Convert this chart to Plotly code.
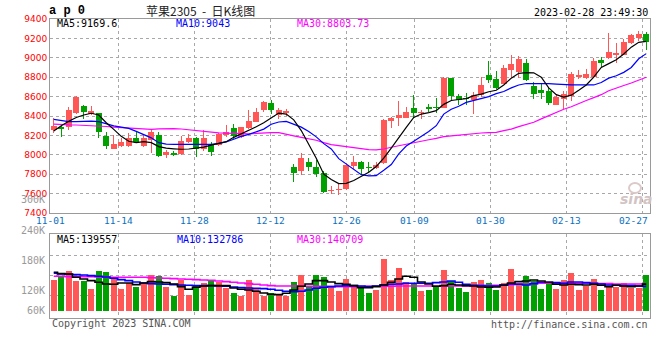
import plotly.graph_objects as go

# ---------------- data ----------------
dates = ["11-01","11-02","11-03","11-04","11-07","11-08","11-09","11-10","11-11",
         "11-14","11-15","11-16","11-17","11-18","11-21","11-22","11-23","11-24","11-25",
         "11-28","11-29","11-30","12-01","12-02","12-05","12-06","12-07","12-08","12-09",
         "12-12","12-13","12-14","12-15","12-16","12-19","12-20","12-21","12-22","12-23",
         "12-26","12-27","12-28","12-29","12-30","01-03","01-04","01-05","01-06",
         "01-09","01-10","01-11","01-12","01-13","01-16","01-17","01-18","01-19","01-20",
         "01-30","01-31","02-01","02-02","02-03","02-06","02-07","02-08","02-09","02-10",
         "02-13","02-14","02-15","02-16","02-17","02-20","02-21","02-22","02-23","02-24",
         "02-27","02-28"]
label_dates = ["11-01","11-14","11-28","12-12","12-26","01-09","01-30","02-13","02-27"]

open_ = [8260,8290,8285,8428,8500,8420,8428,8195,8065,8088,8092,8175,8090,8155,8205,8000,8015,8010,8130,8175,
         8056,8107,8103,8205,8275,8181,8272,8339,8457,8535,8410,8427,7871,7834,7921,7870,7815,7632,7635,7650,
         7888,7921,7875,7861,7915,8349,8376,8383,8478,8427,8494,8490,8484,8788,8602,8582,8568,8619,8825,8780,
         8730,8879,8855,8946,8710,8670,8653,8518,8579,8602,8805,8788,8805,8980,8997,9024,9030,9152,9209,9243]
close = [8300,8265,8460,8598,8445,8450,8240,8090,8108,8135,8172,8135,8175,8240,7990,8025,8000,8145,8172,8060,
         8174,8026,8215,8232,8198,8282,8349,8444,8545,8457,8467,8451,7810,7972,7874,7800,7615,7642,7649,7890,
         7928,7854,7868,7895,8360,8376,8410,8444,8434,8444,8474,8486,8788,8606,8562,8576,8619,8724,8774,8690,
         8896,8933,8990,8771,8629,8639,8538,8592,8626,8831,8821,8831,8963,8950,9057,9047,9168,9236,9249,9168]
high = [8380,8320,8495,8605,8515,8505,8432,8240,8200,8175,8222,8250,8215,8265,8230,8045,8040,8190,8215,8185,
        8258,8130,8225,8306,8322,8290,8467,8484,8555,8568,8480,8477,7901,8023,7962,7950,7830,7675,7699,7895,
        7989,7938,7921,7921,8365,8393,8552,8494,8619,8461,8521,8589,8804,8795,8629,8636,8646,8798,8966,8860,
        8929,9030,9017,8990,8754,8727,8703,8619,8660,8855,8879,8889,9000,9007,9259,9148,9192,9249,9276,9266]
low = [8220,8180,8260,8420,8370,8410,8178,8055,8060,8080,8078,8125,8085,8015,7980,7965,7985,8000,8125,7975,
       8036,7985,8095,8181,8164,8170,8265,8335,8440,8424,8373,8400,7716,7793,7834,7775,7605,7601,7581,7640,
       7854,7787,7820,7855,7910,8275,8292,8375,8376,8366,8444,8434,8480,8568,8511,8511,8417,8595,8737,8680,
       8725,8794,8794,8760,8579,8579,8518,8510,8468,8552,8778,8780,8800,8906,8990,8946,9025,9140,9175,9084]

volume = [152100,162000,179100,149100,149100,125100,179100,175200,157200,125100,144000,131100,144000,167100,164100,
          131100,104100,152100,107100,137100,144000,149100,146100,129000,113100,105000,152100,125100,105000,113100,
          107100,105000,146100,167100,131100,167100,161100,132000,119100,155100,132000,129000,113100,122100,215100,
          152100,188100,146100,140100,119100,122100,134100,182100,149100,128100,116100,146100,152100,143100,122100,
          143100,185100,143100,164100,149100,125100,143100,125100,152100,173100,122100,134100,155100,122100,134100,
          131100,143100,128100,128100,167100]

ma5 = [8245,8300,8345,8385,8410,8428,8410,8330,8262,8190,8140,8125,8135,8125,8085,8068,8062,8057,8060,8067,
       8080,8100,8120,8135,8180,8215,8250,8290,8330,8380,8430,8420,8360,8250,8115,7965,7800,7745,7703,7705,
       7735,7780,7820,7880,7965,8069,8170,8282,8385,8420,8435,8455,8520,8560,8570,8580,8610,8625,8650,8665,
       8720,8790,8840,8848,8845,8800,8690,8620,8595,8615,8665,8720,8800,8900,8940,8980,9040,9110,9160,9170]
ma10 = [8365,8355,8343,8341,8344,8348,8342,8318,8298,8285,8272,8242,8205,8175,8125,8110,8108,8108,8105,8102,
        8104,8107,8118,8134,8160,8190,8210,8240,8265,8315,8338,8345,8315,8285,8240,8185,8115,8060,7960,7905,
        7845,7795,7783,7785,7840,7900,8010,8090,8140,8190,8240,8300,8420,8470,8500,8540,8560,8580,8600,8630,
        8653,8690,8720,8735,8737,8737,8734,8729,8722,8720,8720,8720,8720,8745,8790,8815,8850,8900,8990,9043]
ma30 = [8316,8310,8308,8307,8305,8300,8297,8292,8285,8280,8275,8270,8265,8263,8268,8272,8270,8266,8258,8250,
        8240,8230,8226,8223,8220,8217,8215,8220,8227,8228,8228,8215,8195,8180,8165,8150,8125,8105,8095,8083,
        8070,8058,8053,8050,8060,8078,8095,8112,8125,8140,8155,8170,8187,8195,8203,8210,8220,8225,8228,8232,
        8250,8265,8290,8315,8335,8370,8405,8440,8470,8495,8530,8560,8590,8620,8660,8690,8715,8740,8770,8800]

vma5 = [175,171,170,160,155,150,145,140,139,143,143,138,143,147,146,144,140,132,124,130,
        134,135,135,135,128,124,122,118,113,109,108,112,122,133,140,150,150,146,141,139,
        135,129,129,132,137,145,155,163,160,146,140,133,135,139,137,135,134,131,130,131,
        137,143,147,149,152,149,145,139,137,139,138,137,139,136,132,136,134,132,134,139.6]
vma10 = [172,170,169,168,167,165,163,161,157,153,150,146,143,141,140,139,138,137,136,135,
         135,135,134,133,131,129,128,127,126,124,121,118,117,118,122,127,130,132,134,135,
         135,134,132,134,137,139,140,142,142,142,142,144,146,149,145,139,136,135,134,134,
         136,140,139,137,141,145,145,144,142,146,146,144,142,140,137,136,135,135,134,132.8]
vma30 = [163,163,162,162,162,162,161,161,160,160,160,160,160,159,158,157,156,155,154,153,
         152,151,149,147,145,143,141,139,137,135,134,134,134,134,133,133,132,132,132,132,
         132,132,133,133,133,133,134,134,134,134,134,134,134,134,134,134,135,135,135,136,
         137,138,139,140,141,142,142,142,142,142,142,142,142,141,141,140,140,140,140,140.7]

price_ticks = [7400, 7600, 7800, 8000, 8200, 8400, 8600, 8800, 9000, 9200, 9400]
vol_tick_labels = ["300K", "240K", "180K", "120K", "60K"]
ma_texts = ["MA5:9169.6", "MA10:9043", "MA30:8803.73"]
vol_ma_texts = ["MA5:139557", "MA10:132786", "MA30:140709"]
title_code = "a p 0"
title_text = "苹果2305\u00a0\u00a0-\u00a0\u00a0日K线图"
timestamp = "2023-02-28 23:49:30"
copyright_text = "Copyright 2023 SINA.COM"
url_text = "http://finance.sina.com.cn"

# ---------------- styling / layout ----------------
RED = "#ff5656"
GREEN = "#00a000"
GRID = "#a8a8a8"
BORDER = "#9a9a9a"
MONO = "DejaVu Sans Mono"
VOL_BASE = 60000

# page body margin is reset to 0 (see post_script), figure fills the window
W, H = 660, 360
PLOT_L, PLOT_R, PLOT_T, PLOT_B = 50, 650, 19, 318   # window pixels
L, R = PLOT_L, W - PLOT_R
T, B = PLOT_T, H - PLOT_B


def px_x(x):
    return (x - PLOT_L) / (PLOT_R - PLOT_L)


def px_y(y):
    return (PLOT_B - y) / (PLOT_B - PLOT_T)


n = len(dates)
idx = list(range(n))
colors = [RED if c >= o else GREEN for o, c in zip(open_, close)]
# Sina spaces its date grid over (n-1) intervals while candles use n slots
grid_pos = [dates.index(d) * n / (n - 1) - 0.5 for d in label_dates]

fig = go.Figure()

# candle wicks
fig.add_trace(go.Bar(x=idx, y=[h - l for h, l in zip(high, low)], base=low, width=0.14,
                     marker=dict(color=colors, line=dict(width=0)), hoverinfo="skip"))
# candle bodies
fig.add_trace(go.Bar(x=idx, y=[max(abs(c - o), 9) for o, c in zip(open_, close)],
                     base=[min(o, c) for o, c in zip(open_, close)], width=0.8,
                     marker=dict(color=colors, line=dict(width=0)), hoverinfo="skip"))
for ser, col in [(ma30, "#ff00ff"), (ma10, "#0000ff"), (ma5, "#000000")]:
    fig.add_trace(go.Scatter(x=idx, y=ser, mode="lines", line=dict(color=col, width=1.2),
                             hoverinfo="skip"))

# volume
fig.add_trace(go.Bar(x=idx, y=[v - VOL_BASE for v in volume], base=VOL_BASE, width=0.8,
                     marker=dict(color=colors, line=dict(width=0)), xaxis="x2", yaxis="y2",
                     hoverinfo="skip"))
for ser, col in [(vma30, "#ff00ff"), (vma10, "#0000ff"), (vma5, "#000000")]:
    fig.add_trace(go.Scatter(x=idx, y=[v * 1000 for v in ser], mode="lines",
                             line=dict(color=col, width=1.6, shape="hvh"),
                             xaxis="x2", yaxis="y2", hoverinfo="skip"))

axis_common = dict(showline=True, mirror=True, linecolor=BORDER, linewidth=1,
                   zeroline=False, ticks="", fixedrange=True)

fig.update_layout(
    width=W, height=H, margin=dict(l=L, r=R, t=T, b=B, autoexpand=False),
    paper_bgcolor="white", plot_bgcolor="white",
    barmode="overlay", bargap=0, showlegend=False, hovermode=False,
    xaxis=dict(domain=[0, 1], range=[-0.5, n - 0.5], tickvals=grid_pos,
               showticklabels=False, showgrid=True, gridcolor=GRID, griddash="dot",
               gridwidth=1, anchor="y", **axis_common),
    yaxis=dict(domain=[px_y(213), 1], range=[7400, 9400], tickvals=price_ticks,
               tickfont=dict(family="DejaVu Sans", size=9, color="#ff0000"),
               showgrid=True, gridcolor=GRID, griddash="dot", gridwidth=1,
               anchor="x", **axis_common),
    xaxis2=dict(domain=[0, 1], range=[-0.5, n - 0.5], tickvals=grid_pos,
                showticklabels=False, showgrid=True, gridcolor=GRID, griddash="dot",
                gridwidth=1, anchor="y2", **axis_common),
    yaxis2=dict(domain=[0, px_y(234.3)], range=[38000, 289000],
                tickvals=[105000, 165000, 225000], showticklabels=False,
                showgrid=True, gridcolor=GRID, griddash="dot", gridwidth=1,
                anchor="x2", **axis_common),
)

ann = []


def txt(text, x, y, size=10, color="#000000", family=MONO, xanchor="left", xref="paper", **kw):
    ann.append(dict(text=text, x=x if xref != "paper" else px_x(x), y=px_y(y),
                    xref=xref, yref="paper", xanchor=xanchor, yanchor="middle",
                    showarrow=False, font=dict(family=family, size=size, color=color, **kw)))


# header
txt(title_code, 47, 11, size=12, family="Liberation Mono", weight="bold")
txt(title_text, 200, 10, size=12, color="#222222", family="Noto Sans CJK SC", xanchor="center")
txt(timestamp, 650, 12, size=10, xanchor="right")
# MA labels
for t, xx, col in zip(ma_texts, [55, 174, 294.5], ["#000000", "#0000ff", "#ff00ff"]):
    txt(t, xx, 24, size=10, color=col)
for t, xx, col in zip(vol_ma_texts, [55, 175, 295], ["#000000", "#0000ff", "#ff00ff"]):
    txt(t, xx, 239.5, size=10, color=col)
# date labels
for d, g in zip(label_dates, grid_pos):
    if d == label_dates[-1]:
        txt(d, 649.5, 220, size=9.5, color="#0a70c0", xanchor="right")
    else:
        txt(d, g, 220, size=9.5, color="#0a70c0", xanchor="center", xref="x")
# volume axis labels (as drawn by the source)
for t, yy in zip(vol_tick_labels, [199.5, 230.7, 260.7, 290.7, 310.7]):
    txt(t, 47, yy, size=10, color="#999999", xanchor="right")
# footer
txt(copyright_text, 49.5, 323.5, size=10, color="#555555")
txt(url_text, 650, 324, size=10, color="#555555", xanchor="right")
# sina watermark
txt("sina", 636, 199, size=14, color="#d2c4c4", family="DejaVu Sans", xanchor="center",
    weight="bold", style="italic")

fig.update_layout(annotations=ann)
fig.add_shape(type="circle", xref="paper", yref="paper",
              x0=px_x(629), x1=px_x(641), y0=px_y(193), y1=px_y(183),
              line=dict(color="#dccaca", width=2))

fig.write_html("out.html", config={"displayModeBar": False, "staticPlot": True},
               post_script="document.body.style.margin='0';document.body.style.overflow='hidden';")
